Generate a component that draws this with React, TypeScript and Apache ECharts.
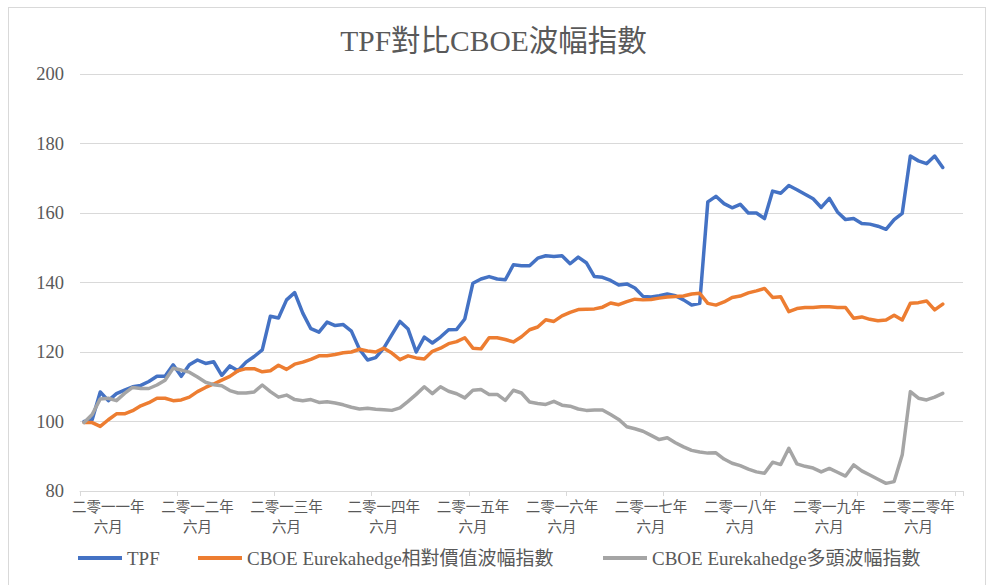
import React, { useEffect, useRef } from "react";
import * as echarts from "echarts";

const chartTitle = "TPF對比CBOE波幅指數";
const seriesNames = ["TPF", "CBOE Eurekahedge相對價值波幅指數", "CBOE Eurekahedge多頭波幅指數"];
const seriesColors = ["#4472C4", "#ED7D31", "#A5A5A5"];
const legendLefts = [78, 198, 603];

const tickLabels = [
  "二零一一年\n六月",
  "二零一二年\n六月",
  "二零一三年\n六月",
  "二零一四年\n六月",
  "二零一五年\n六月",
  "二零一六年\n六月",
  "二零一七年\n六月",
  "二零一八年\n六月",
  "二零一九年\n六月",
  "二零二零年\n六月",
];
const tickLabelSlots = [3, 14, 25, 37, 48, 59, 70, 81, 92, 103];
const categoryCount = 109;

const tpf = [
  100, 100.5, 108.5, 106, 108, 109, 110, 110.4, 111.5, 113,
  113, 116.3, 113, 116.3, 117.7, 116.7, 117.2, 113.3, 116, 114.6,
  117.1, 118.7, 120.6, 130.3, 129.8, 135, 137.1, 131.2, 126.7, 125.7,
  128.6, 127.6, 127.9, 126, 120.8, 117.7, 118.4, 121.1, 125, 128.8,
  126.6, 120, 124.3, 122.6, 124.3, 126.4, 126.5, 129.5, 139.8, 141,
  141.7, 141, 140.8, 145.1, 144.8, 144.8, 147, 147.7, 147.5, 147.7,
  145.4, 147.3, 145.7, 141.7, 141.5, 140.6, 139.3, 139.6, 138.4, 136,
  135.8, 136.2, 136.7, 136.2, 135, 133.5, 134, 163.2, 164.8, 162.7,
  161.5, 162.5, 160, 160, 158.4, 166.3, 165.7, 167.9, 166.7, 165.4,
  164.1, 161.6, 164.2, 160.3, 158.1, 158.4, 157, 156.8, 156.2, 155.3,
  158.1, 159.9, 176.4, 175, 174.2, 176.4, 173.1,
];

const relativeValue = [
  99.7, 99.7, 98.6, 100.5, 102.2, 102.2, 103.1, 104.5, 105.4, 106.7,
  106.7, 106, 106.2, 107, 108.6, 109.8, 110.8, 111.9, 113, 114.6,
  115.2, 115.2, 114.3, 114.6, 116.2, 115, 116.5, 117.1, 117.9, 118.9,
  118.9, 119.3, 119.8, 120, 120.8, 120.3, 120, 121.1, 119.7, 117.8,
  118.9, 118.3, 118, 120.2, 121.1, 122.4, 123, 124.1, 121.1, 120.9,
  124.1, 124.1, 123.6, 122.9, 124.4, 126.4, 127.2, 129.3, 128.8, 130.4,
  131.4, 132.2, 132.3, 132.4, 132.9, 134.1, 133.6, 134.5, 135.2, 135,
  135.1, 135.5, 135.8, 136, 136.1, 136.7, 136.9, 134, 133.5, 134.4,
  135.7, 136.1, 137, 137.6, 138.3, 135.7, 135.9, 131.6, 132.5, 132.8,
  132.8, 133, 133, 132.8, 132.8, 129.7, 130.1, 129.4, 129, 129.2,
  130.6, 129.2, 134, 134.2, 134.7, 132.1, 133.8,
];

const longVolatility = [
  99.7, 102, 106.5, 106.7, 106, 108.1, 109.8, 109.5, 109.5, 110.5,
  111.9, 115.3, 114.8, 114.2, 112.8, 111.3, 110.6, 110.3, 108.9, 108.2,
  108.2, 108.5, 110.5, 108.6, 107, 107.6, 106.3, 106, 106.3, 105.5,
  105.7, 105.3, 104.8, 104.1, 103.6, 103.8, 103.5, 103.4, 103.2, 103.9,
  105.8, 107.8, 110, 108, 110, 108.7, 108, 106.8, 109, 109.2,
  107.8, 107.8, 106.1, 109, 108.2, 105.6, 105.2, 104.9, 105.8, 104.7,
  104.4, 103.6, 103.2, 103.3, 103.3, 102, 100.6, 98.5, 97.9, 97.2,
  96, 94.8, 95.3, 93.9, 92.7, 91.7, 91.2, 90.9, 91, 89.2,
  88, 87.3, 86.3, 85.5, 85.1, 88.3, 87.6, 92.3, 87.8, 87.1,
  86.6, 85.5, 86.5, 85.4, 84.3, 87.5, 85.8, 84.6, 83.4, 82.2,
  82.7, 90.4, 108.6, 106.7, 106.2, 107, 108.1,
];

const yMin = 80;
const yMax = 200;
const yStep = 20;

const FONT = '"Liberation Serif", "Times New Roman", "Noto Sans CJK TC", serif';
const TEXT = "#595959";
const GRID = "#d9d9d9";

export default function App() {
  const ref = useRef<HTMLDivElement>(null);

  useEffect(() => {
    document.body.style.overflow = "hidden";
    if (!ref.current) return;
    const chart = echarts.init(ref.current, null, { renderer: "svg" });

    const categories = Array.from({ length: categoryCount }, (_, i) => {
      const k = tickLabelSlots.indexOf(i);
      return k >= 0 ? tickLabels[k] : "";
    });

    const allSeries = [tpf, relativeValue, longVolatility];

    chart.setOption({
      animation: false,
      title: {
        text: chartTitle,
        left: "center",
        top: 26,
        padding: 0,
        textStyle: { fontFamily: FONT, fontSize: 29.5, fontWeight: "normal", color: TEXT },
      },
      legend: seriesNames.map((name, k) => ({
        left: legendLefts[k],
        top: 547,
        padding: 0,
        icon: "rect",
        itemWidth: 44,
        itemHeight: 4,
        itemGap: 4,
        textStyle: { fontFamily: FONT, fontSize: 19, color: TEXT, lineHeight: 22 },
        data: [name],
      })),
      grid: { left: 80, right: 24, top: 74, bottom: 94, containLabel: false },
      xAxis: {
        type: "category",
        data: categories,
        boundaryGap: true,
        axisLine: { lineStyle: { color: GRID, width: 1 } },
        axisTick: { show: true, interval: 11, length: 5, lineStyle: { color: GRID } },
        axisLabel: {
          interval: 0,
          color: TEXT,
          fontFamily: FONT,
          fontSize: 14.5,
          lineHeight: 20,
          margin: 6,
          align: "center",
        },
        splitLine: { show: false },
      },
      yAxis: {
        type: "value",
        min: yMin,
        max: yMax,
        interval: yStep,
        axisLine: { show: false },
        axisTick: { show: false },
        axisLabel: { color: TEXT, fontFamily: FONT, fontSize: 18.5, margin: 16 },
        splitLine: { lineStyle: { color: GRID, width: 1 } },
      },
      series: allSeries.map((data, k) => ({
        name: seriesNames[k],
        type: "line",
        data,
        symbol: "none",
        smooth: false,
        itemStyle: { color: seriesColors[k] },
        lineStyle: { color: seriesColors[k], width: 3.5, cap: "round", join: "round" },
      })),
    });

    return () => chart.dispose();
  }, []);

  return (
    <div style={{ position: "fixed", left: 0, top: 0, width: 987, height: 585, background: "#fff" }}>
      <div
        style={{
          position: "absolute",
          left: 8,
          top: 7,
          width: 978,
          height: 620,
          border: "1px solid #d9d9d9",
          boxSizing: "border-box",
        }}
      />
      <div ref={ref} style={{ position: "absolute", left: 0, top: 0, width: 987, height: 585 }} />
    </div>
  );
}
